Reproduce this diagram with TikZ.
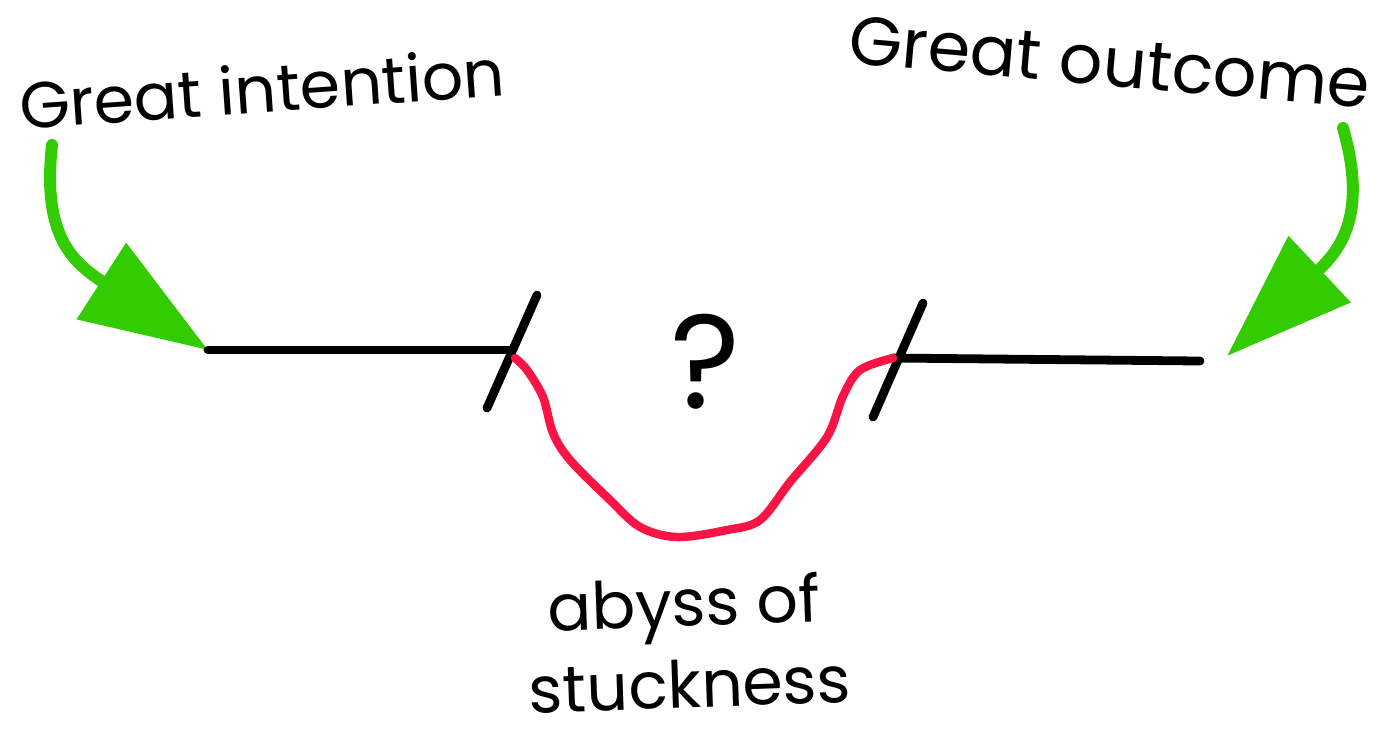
\documentclass[tikz,border=0pt]{standalone}
\usepackage{fontspec}
\setmainfont{Poppins}
\usetikzlibrary{arrows.meta}
\definecolor{arrowgreen}{RGB}{51,204,0}
\definecolor{abyssred}{RGB}{250,20,70}
\tikzset{
  label/.style={font=\fontsize{18.5}{22}\selectfont, inner sep=0pt, anchor=center},
  greenarrow/.style={draw=arrowgreen, line width=3.4pt, line cap=round,
    -{Triangle[length=1.27cm, width=0.88cm, fill=arrowgreen]}},
  blackline/.style={draw=black, line width=2.5pt, line cap=round},
  redline/.style={draw=abyssred, line width=2.4pt, line cap=round, line join=round}
}
\begin{document}
\begin{tikzpicture}[x=0.01cm, y=-0.01cm]
\useasboundingbox (0,0) rectangle (1388,732);
% labels
\node[label, rotate=4] (intent) at (262,88) {Great intention};
\node[label, rotate=-5, font=\fontsize{19.5}{22}\selectfont] (outcome) at (1110,62) {Great outcome};
\node[label, rotate=2] (abyss1) at (684,610) {abyss of};
\node[label, rotate=2] (abyss2) at (690,684) {stuckness};
\node[font=\fontsize{38}{40}\selectfont, inner sep=0pt] (q) at (706,362) {?};
% coordinates
\coordinate (a1s) at (52,145);
\coordinate (a2s) at (1343,128);
\coordinate (Lstart) at (208,350);
\coordinate (Lend) at (512,350);
\coordinate (Rstart) at (893,358);
\coordinate (Rend) at (1200,361);
\coordinate (Rtip) at (1227,356);
\coordinate (t1a) at (537,295);
\coordinate (t1b) at (487,408);
\coordinate (t2a) at (923,303);
\coordinate (t2b) at (873,417);
% green arrows
\draw[greenarrow] (a1s) .. controls (42,235) and (72,262) .. (Lstart);
\draw[greenarrow] (a2s) .. controls (1368,215) and (1340,250) .. (Rtip);
% black lines
\draw[blackline] (Lstart) -- (Lend);
\draw[blackline] (t1a) -- (t1b);
\draw[blackline] (Rstart) -- (Rend);
\draw[blackline] (t2a) -- (t2b);
% abyss
\draw[redline] plot[smooth, tension=0.55] coordinates {
 (515,358) (527,370) (543,397) (553,433) (570,460) (610,500) (640,527)
 (677,537) (727,530) (760,520) (790,482) (827,437) (843,396) (860,370) (893,358)};
\end{tikzpicture}
\end{document}
